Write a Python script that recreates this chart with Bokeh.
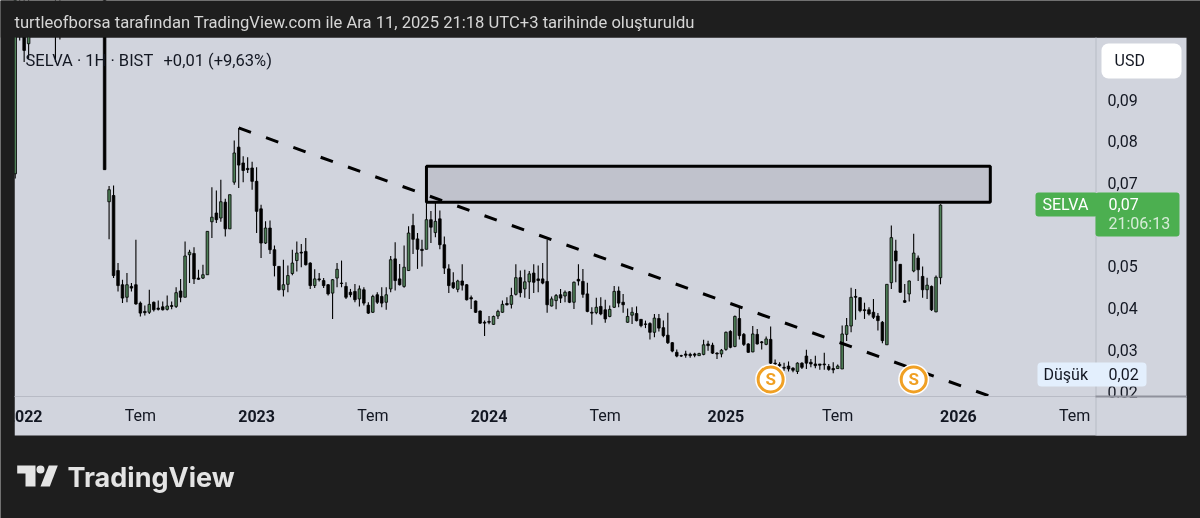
import numpy as np
import pandas as pd
from bokeh.embed import file_html
from bokeh.resources import INLINE
from bokeh.plotting import figure
from bokeh.models import BoxAnnotation, Label, FixedTicker, PolyAnnotation, ColumnDataSource, LinearAxis
from bokeh.core.properties import value

# ---- weekly candles, 2022-05-16 .. 2025-12-08 ----
first_week = "2022-05-16"
opens = [.0655,.0670,.0490,.0456,.0426,.0452,.0456,.0412,.0392,.0390,.0414,.0400,.0403,.0397,.0406,.0404,.0441,.0426,.0528,.0531,
 .0472,.0472,.0480,.0607,.0628,.0616,.0654,.0590,.0702,.0786,.0748,.0735,.0736,.0704,.0638,.0556,.0592,.0540,.0500,.0444,
 .0457,.0483,.0514,.0534,.0536,.0508,.0454,.0470,.0466,.0456,.0436,.0472,.0460,.0452,.0438,.0440,.0422,.0444,.0407,.0390,
 .0432,.0428,.0414,.0446,.0518,.0470,.0452,.0490,.0598,.0566,.0541,.0541,.0612,.0581,.0614,.0552,.0494,.0461,.0445,.0465,
 .0456,.0425,.0417,.0393,.0366,.0368,.0361,.0381,.0390,.0411,.0409,.0433,.0473,.0446,.0463,.0484,.0470,.0470,.0464,.0405,
 .0418,.0432,.0429,.0439,.0414,.0469,.0464,.0434,.0390,.0389,.0404,.0396,.0380,.0402,.0441,.0414,.0366,.0383,.0387,.0373,
 .0362,.0363,.0342,.0375,.0353,.0335,.0317,.0294,.0286,.0290,.0289,.0290,.0286,.0289,.0314,.0311,.0292,.0290,.0301,.0344,
 .0308,.0375,.0337,.0314,.0295,.0337,.0319,.0313,.0325,.0268,.0265,.0258,.0261,.0256,.0248,.0268,.0285,.0270,.0266,.0266,
 .0266,.0260,.0255,.0255,.0254,.0337,.0357,.0428,.0425,.0396,.0396,.0390,.0381,.0366,.0312,.0461,.0537,.0505,.0418,.0434,
 .0489,.0520,.0476,.0444,.0452,.0391,.0473]
highs = [.0693,.0694,.0508,.0468,.0484,.0460,.0564,.0416,.0406,.0444,.0416,.0418,.0416,.0430,.0416,.0450,.0470,.0560,.0540,.0546,
 .0492,.0504,.0584,.0690,.0682,.0708,.0662,.0672,.0802,.0832,.0764,.0762,.0751,.0738,.0648,.0608,.0610,.0550,.0500,.0516,
 .0502,.0540,.0560,.0554,.0568,.0510,.0493,.0484,.0472,.0458,.0470,.0508,.0514,.0462,.0446,.0458,.0454,.0450,.0414,.0432,
 .0438,.0450,.0450,.0525,.0558,.0506,.0550,.0596,.0626,.0580,.0564,.0660,.0633,.0654,.0634,.0572,.0505,.0486,.0468,.0505,
 .0458,.0430,.0418,.0394,.0370,.0381,.0382,.0396,.0418,.0426,.0449,.0505,.0490,.0492,.0489,.0505,.0502,.0508,.0564,.0428,
 .0434,.0446,.0442,.0441,.0464,.0505,.0494,.0461,.0402,.0425,.0426,.0420,.0406,.0453,.0452,.0434,.0399,.0402,.0404,.0374,
 .0370,.0366,.0386,.0386,.0370,.0389,.0319,.0301,.0288,.0298,.0293,.0293,.0293,.0324,.0322,.0317,.0294,.0302,.0344,.0347,
 .0382,.0402,.0340,.0316,.0357,.0350,.0321,.0332,.0356,.0277,.0270,.0269,.0272,.0258,.0270,.0270,.0300,.0278,.0286,.0266,
 .0293,.0266,.0270,.0265,.0358,.0376,.0449,.0446,.0426,.0413,.0402,.0422,.0388,.0369,.0457,.0598,.0564,.0506,.0458,.0466,
 .0578,.0526,.0500,.0473,.0454,.0478,.0649]
lows = [.0565,.0472,.0440,.0412,.0414,.0440,.0408,.0380,.0382,.0386,.0392,.0394,.0394,.0394,.0397,.0400,.0414,.0426,.0460,.0458,
 .0468,.0470,.0480,.0568,.0604,.0607,.0572,.0590,.0696,.0688,.0702,.0724,.0684,.0580,.0520,.0554,.0530,.0476,.0442,.0428,
 .0438,.0479,.0488,.0498,.0502,.0446,.0448,.0464,.0448,.0430,.0374,.0450,.0450,.0422,.0426,.0414,.0404,.0406,.0386,.0388,
 .0410,.0402,.0396,.0438,.0442,.0454,.0449,.0489,.0530,.0494,.0500,.0541,.0556,.0570,.0541,.0482,.0436,.0446,.0438,.0442,
 .0418,.0398,.0388,.0362,.0333,.0361,.0360,.0374,.0389,.0406,.0399,.0430,.0426,.0425,.0422,.0436,.0438,.0457,.0389,.0404,
 .0397,.0412,.0414,.0412,.0398,.0454,.0425,.0390,.0360,.0385,.0383,.0365,.0378,.0400,.0402,.0389,.0365,.0362,.0368,.0354,
 .0352,.0325,.0330,.0344,.0330,.0314,.0294,.0282,.0283,.0281,.0281,.0282,.0286,.0287,.0298,.0290,.0278,.0282,.0298,.0304,
 .0306,.0325,.0309,.0293,.0294,.0313,.0301,.0311,.0266,.0258,.0257,.0250,.0248,.0246,.0242,.0254,.0254,.0258,.0256,.0252,
 .0252,.0250,.0244,.0254,.0254,.0321,.0342,.0372,.0390,.0374,.0382,.0374,.0346,.0316,.0312,.0446,.0462,.0437,.0412,.0416,
 .0486,.0465,.0425,.0422,.0393,.0390,.0457]
closes = [.0684,.0478,.0454,.0424,.0456,.0448,.0410,.0388,.0389,.0409,.0396,.0397,.0396,.0405,.0404,.0437,.0426,.0525,.0534,.0470,
 .0469,.0480,.0584,.0618,.0612,.0655,.0590,.0672,.0772,.0743,.0730,.0732,.0704,.0632,.0556,.0592,.0540,.0502,.0444,.0456,
 .0478,.0508,.0532,.0532,.0504,.0454,.0470,.0468,.0454,.0434,.0468,.0493,.0459,.0426,.0432,.0420,.0446,.0412,.0388,.0428,
 .0414,.0412,.0432,.0516,.0466,.0456,.0498,.0580,.0565,.0541,.0538,.0612,.0594,.0608,.0552,.0496,.0454,.0449,.0465,.0455,
 .0420,.0422,.0390,.0364,.0364,.0366,.0380,.0392,.0409,.0408,.0430,.0473,.0437,.0463,.0482,.0462,.0466,.0460,.0408,.0422,
 .0430,.0424,.0438,.0414,.0462,.0465,.0433,.0392,.0388,.0402,.0386,.0374,.0397,.0440,.0412,.0408,.0380,.0390,.0370,.0358,
 .0361,.0342,.0376,.0352,.0334,.0317,.0297,.0285,.0285,.0287,.0286,.0287,.0291,.0312,.0310,.0292,.0290,.0299,.0342,.0306,
 .0380,.0334,.0313,.0294,.0338,.0314,.0317,.0326,.0268,.0266,.0262,.0256,.0254,.0251,.0268,.0258,.0268,.0266,.0262,.0263,
 .0264,.0253,.0252,.0261,.0338,.0358,.0426,.0426,.0394,.0394,.0386,.0378,.0370,.0322,.0457,.0569,.0513,.0438,.0414,.0465,
 .0532,.0492,.0444,.0455,.0396,.0474,.0647]

# ---- early candles that run off the top of the pane ----
early_dates = ["2021-12-20","2021-12-27","2022-01-03","2022-01-10","2022-02-21","2022-02-28","2022-05-09"]
early_opens  = [.0722,.1100,.1100,.1034,.1100,.1100,.1150]
early_highs  = [.1200,.1150,.1150,.1150,.1150,.1150,.1180]
early_lows   = [.0711,.1042,.0990,.0998,.0990,.1044,.0732]
early_closes = [.1180,.1080,.1018,.1080,.1060,.1080,.0732]

# ---- drawings ----
trend_dates = ["2022-12-05","2026-02-21"]
trend_prices = [.0832,.0190]
zone_dates = ["2023-09-25","2026-02-24"]
zone_prices = [.0654,.0740]
split_dates = ["2025-03-17","2025-10-27"]
split_prices = [.0229,.0229]

# ---- axes ----
price_ticks = [.02,.03,.04,.05,.07,.08,.09]
price_labels = ["0,02","0,03","0,04","0,05","0,07","0,08","0,09"]
month_dates = ["2022-07-04","2023-07-03","2024-07-01","2025-06-30","2026-07-06"]
month_labels = ["Tem"]*5
year_dates = ["2022-01-03","2023-01-02","2024-01-01","2025-01-06","2026-01-05"]
year_labels = ["2022","2023","2024","2025","2026"]

header = "turtleofborsa tarafından TradingView.com ile Ara 11, 2025 21:18 UTC+3 tarihinde oluşturuldu"

DARK = "#1e1e1e"; PANE = "#d1d4dd"; INK = "#131722"; UP = "#4e7f57"; GRID = "#b8bbc5"
FONT = "Roboto"

WEEK = 7*24*3600*1000
ts = lambda d: float(pd.Timestamp(d).value // 10**6)
weeks = pd.date_range(first_week, periods=len(opens), freq="7D")
x_main = np.array([ts(d) for d in weeks])
x_early = np.array([ts(d) for d in early_dates])
x = np.concatenate([x_early, x_main])
o = np.array(early_opens + opens); h = np.array(early_highs + highs)
l = np.array(early_lows + lows); c = np.array(early_closes + closes)

# canvas geometry: one week is 4.47px, last candle at 940px; one cent is 41.7px
PXW = 4.47
last = x_main[-1]
xv = lambda px: last + (px-940)/PXW*WEEK
pv = lambda py: .02 + (391-py)/4170

p = figure(width=1200, height=518, frame_width=1200, frame_height=518,
           x_range=(xv(0), xv(1200)), y_range=(pv(518), pv(0)),
           x_axis_location=None, y_axis_location=None, toolbar_location=None, output_backend="svg",
           min_border=0, background_fill_color=DARK, border_fill_color=DARK, outline_line_color=None,
           styles={"position":"fixed","left":"0","top":"0"})
p.grid.visible = False

def box(lft, r, t, b, fill, radius=0, level="annotation"):
    p.add_layout(BoxAnnotation(left=lft, right=r, top=t, bottom=b, left_units="canvas", right_units="canvas",
                               top_units="canvas", bottom_units="canvas", fill_color=fill, fill_alpha=1,
                               line_color=None, border_radius=radius, level=level))

def txt(px, py, t, color=INK, size="16px", style="normal", font=FONT, align="left"):
    p.add_layout(Label(x=px, y=py, x_units="canvas", y_units="canvas", text=t, text_color=color, text_font=font,
                       text_font_size=size, text_font_style=style, text_baseline="middle", text_align=align))

# pane behind everything
box(14, 1186, 37, 435, PANE, level="underlay")

up = c >= o
src_up = ColumnDataSource(dict(x=x[up], o=o[up], c=c[up], h=h[up], l=l[up]))
src_dn = ColumnDataSource(dict(x=x[~up], o=o[~up], c=c[~up], h=h[~up], l=l[~up]))
for s, col in ((src_up, UP), (src_dn, "#000000")):
    p.segment("x", "h", "x", "l", source=s, line_color="#000000", line_width=1.1)
    p.vbar(x="x", bottom="o", top="c", width=0.58*WEEK, source=s, fill_color=col, line_color="#000000", line_width=0.8)

# zone and trend line
p.quad(left=[ts(zone_dates[0])], right=[ts(zone_dates[1])], bottom=[zone_prices[0]], top=[zone_prices[1]],
       fill_color="#c0c2cc", line_color="#000000", line_width=3)
p.line([ts(d) for d in trend_dates], trend_prices, line_color="#000000", line_width=3, line_dash="13 16")

# split markers
sx = [ts(d) for d in split_dates]
p.scatter(sx, split_prices, size=31, marker="circle", fill_color="#ffffff", line_color=None)
p.scatter(sx, split_prices, size=25, marker="circle", fill_color="#ffffff", line_color="#f0a024", line_width=3)
p.text(sx, split_prices, text=["S","S"], text_align="center", text_baseline="middle", text_color="#f0a024",
       text_font=value(FONT), text_font_style="bold", text_font_size="17px")

# axes, pinned at the pane's dividers
ya = LinearAxis(fixed_location=xv(1095), ticker=FixedTicker(ticks=price_ticks),
                major_label_overrides=dict(zip(price_ticks, price_labels)),
                major_label_text_font=FONT, major_label_text_font_size="16px", major_label_text_color=INK,
                major_tick_line_color=None, minor_tick_line_color=None, axis_line_color=None, major_label_standoff=6)
p.add_layout(ya, "right")
month_ticks = [ts(d) for d in month_dates]
xa = LinearAxis(fixed_location=pv(396), ticker=FixedTicker(ticks=month_ticks),
                major_label_overrides=dict(zip(month_ticks, month_labels)),
                major_label_text_font=FONT, major_label_text_font_size="16px", major_label_text_color=INK,
                major_tick_line_color=None, minor_tick_line_color=None, axis_line_color=None, major_label_standoff=3)
p.add_layout(xa, "below")

for d, t in zip(year_dates, year_labels):
    p.add_layout(Label(x=ts(d), y=pv(415), text=t, text_align="center", text_baseline="middle",
                       text_font=FONT, text_font_size="16px", text_font_style="bold", text_color=INK))

# covers: dark strips clip off-pane marks; bottom of the price scale clips the lowest tick
box(0, 14, 0, 518, DARK)
box(0, 1200, 0, 37, DARK)
box(1096, 1186, 397, 435, PANE)
box(14, 1186, 395.5, 396.5, GRID)
box(1095, 1096, 37, 435, GRID)
box(1095, 1186, 395, 397, "#8f919c")

# USD button, tags
box(1101, 1181, 43, 78, "#ffffff", 7)
txt(1114, 60, "USD")
box(1035, 1097, 192, 216, "#4caf50", 3)
box(1095, 1179, 192, 236, "#4caf50", 3)
txt(1042, 204, "SELVA", color="#ffffff", size="16px")
txt(1108, 203, "0,07", color="#ffffff")
txt(1108, 222.5, "21:06:13", color="#d6ecd7")
box(1037, 1146, 362, 386, "#e3effd", 4)
txt(1043, 373.5, "Düşük")
txt(1108, 373.5, "0,02")

# legend and header
txt(25, 59.5, "SELVA · 1H · BIST", size="16.5px")
txt(163, 59.5, "+0,01 (+9,63%)", size="16.5px")
txt(14, 21.5, header, color="#d6d6d6", size="16.6px")

# logo
logo_paths = [
    ([16.7,35,35,25,25,16.7], [465,465,486,486,473,473]),
    ([48.3,57.3,49.3,40], [465,465,486,486]),
]
for xs, ys in logo_paths:
    p.add_layout(PolyAnnotation(xs=xs, ys=ys, xs_units="canvas", ys_units="canvas",
                                fill_color="#e4e4e4", fill_alpha=1, line_color=None))
box(36, 44, 465, 473, "#e4e4e4", 4)
txt(67, 477, "TradingView", color="#e4e4e4", size="27px", style="bold", font="Inter")

open("out.html", "w").write(file_html(p, INLINE))
